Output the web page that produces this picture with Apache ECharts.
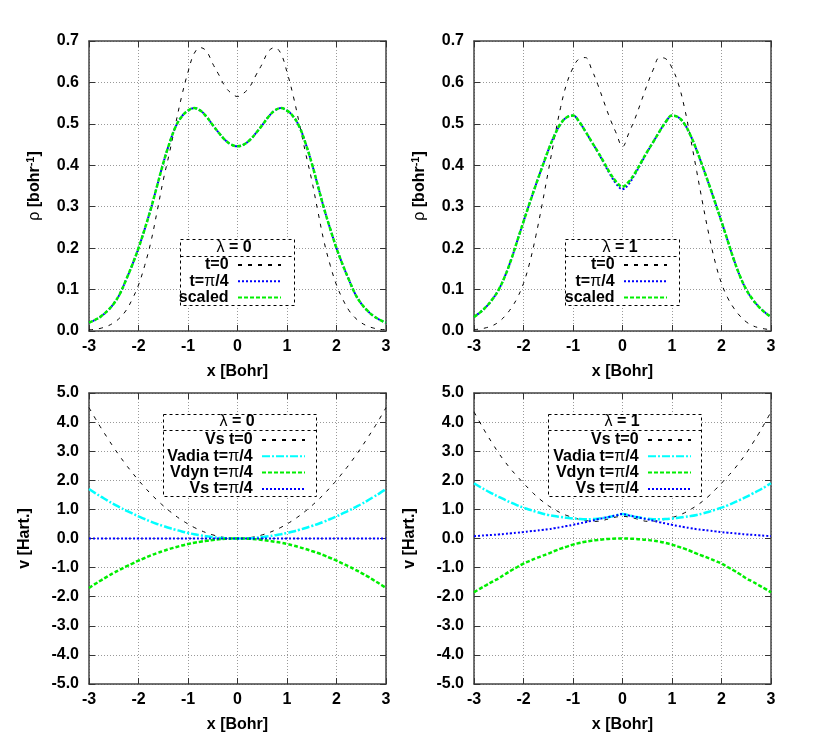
<!DOCTYPE html>
<html>
<head>
<meta charset="utf-8">
<script src="https://cdn.jsdelivr.net/npm/echarts@6.0.0/dist/echarts.min.js"></script>
<style>
  html, body { margin: 0; padding: 0; background: #fff; }
  #main { width: 830px; height: 746px; }
</style>
</head>
<body>
<div id="main"></div>
<script>
// x positions (Bohr)
var xs = [-3, -2.875, -2.75, -2.625, -2.5, -2.375, -2.25, -2.125, -2, -1.875, -1.75, -1.625, -1.5,
          -1.375, -1.25, -1.125, -1, -0.875, -0.75, -0.625, -0.5, -0.375, -0.25, -0.125, 0,
          0.125, 0.25, 0.375, 0.5, 0.625, 0.75, 0.875, 1, 1.125, 1.25, 1.375, 1.5,
          1.625, 1.75, 1.875, 2, 2.125, 2.25, 2.375, 2.5, 2.625, 2.75, 2.875, 3];

// density, lambda = 0
var rhoT0L0 = [0.003, 0.004, 0.007, 0.012, 0.02, 0.032, 0.05, 0.077, 0.111, 0.158, 0.215, 0.288, 0.364,
               0.43, 0.5, 0.568, 0.625, 0.67, 0.684, 0.675, 0.645, 0.618, 0.59, 0.574, 0.566,
               0.574, 0.59, 0.618, 0.645, 0.675, 0.684, 0.67, 0.625, 0.568, 0.5, 0.43, 0.364,
               0.288, 0.215, 0.158, 0.111, 0.077, 0.05, 0.032, 0.02, 0.012, 0.007, 0.004, 0.003];
var rhoPiL0 = [0.02, 0.027, 0.036, 0.049, 0.066, 0.09, 0.124, 0.16, 0.2, 0.246, 0.295, 0.35, 0.405,
               0.453, 0.493, 0.518, 0.532, 0.538, 0.532, 0.517, 0.497, 0.478, 0.461, 0.45, 0.446,
               0.45, 0.461, 0.478, 0.497, 0.517, 0.532, 0.538, 0.532, 0.518, 0.493, 0.453, 0.405,
               0.35, 0.295, 0.246, 0.2, 0.16, 0.124, 0.09, 0.066, 0.049, 0.036, 0.027, 0.02];
var rhoScL0 = [0.02, 0.027, 0.036, 0.049, 0.066, 0.09, 0.124, 0.16, 0.2, 0.246, 0.295, 0.35, 0.405,
               0.453, 0.493, 0.518, 0.532, 0.538, 0.532, 0.517, 0.497, 0.478, 0.461, 0.45, 0.446,
               0.45, 0.461, 0.478, 0.497, 0.517, 0.532, 0.538, 0.532, 0.518, 0.493, 0.453, 0.405,
               0.35, 0.295, 0.246, 0.2, 0.16, 0.124, 0.09, 0.066, 0.049, 0.036, 0.027, 0.02];

// density, lambda = 1
var rhoT0L1 = [0.003, 0.005, 0.008, 0.013, 0.022, 0.036, 0.055, 0.08, 0.115, 0.165, 0.23, 0.305, 0.385,
               0.465, 0.54, 0.598, 0.635, 0.657, 0.66, 0.632, 0.595, 0.553, 0.512, 0.477, 0.445,
               0.477, 0.512, 0.553, 0.595, 0.632, 0.66, 0.657, 0.635, 0.598, 0.54, 0.465, 0.385,
               0.305, 0.23, 0.165, 0.115, 0.08, 0.055, 0.036, 0.022, 0.013, 0.008, 0.005, 0.003];
var rhoPiL1 = [0.034, 0.045, 0.059, 0.077, 0.1, 0.132, 0.172, 0.218, 0.264, 0.309, 0.353, 0.395, 0.436,
               0.472, 0.5, 0.516, 0.52, 0.505, 0.482, 0.457, 0.432, 0.405, 0.378, 0.355, 0.342,
               0.355, 0.378, 0.405, 0.432, 0.457, 0.482, 0.505, 0.52, 0.516, 0.5, 0.472, 0.436,
               0.395, 0.353, 0.309, 0.264, 0.218, 0.172, 0.132, 0.1, 0.077, 0.059, 0.045, 0.034];
var rhoScL1 = [0.034, 0.045, 0.059, 0.077, 0.1, 0.132, 0.172, 0.218, 0.264, 0.309, 0.353, 0.395, 0.436,
               0.472, 0.5, 0.516, 0.52, 0.505, 0.482, 0.457, 0.433, 0.407, 0.381, 0.36, 0.348,
               0.36, 0.381, 0.407, 0.433, 0.457, 0.482, 0.505, 0.52, 0.516, 0.5, 0.472, 0.436,
               0.395, 0.353, 0.309, 0.264, 0.218, 0.172, 0.132, 0.1, 0.077, 0.059, 0.045, 0.034];

// potentials, lambda = 0
var vsT0L0 = [4.5, 4.13, 3.78, 3.45, 3.125, 2.82, 2.53, 2.26, 2.0, 1.76, 1.53, 1.32, 1.125,
              0.945, 0.78, 0.63, 0.5, 0.38, 0.28, 0.195, 0.125, 0.07, 0.03, 0.008, 0,
              0.008, 0.03, 0.07, 0.125, 0.195, 0.28, 0.38, 0.5, 0.63, 0.78, 0.945, 1.125,
              1.32, 1.53, 1.76, 2.0, 2.26, 2.53, 2.82, 3.125, 3.45, 3.78, 4.13, 4.5];
var vadiaL0 = [1.7, 1.56, 1.43, 1.3, 1.18, 1.07, 0.96, 0.86, 0.76, 0.67, 0.58, 0.5, 0.43,
               0.36, 0.3, 0.24, 0.19, 0.145, 0.11, 0.075, 0.05, 0.025, 0.01, 0.003, 0,
               0.003, 0.01, 0.025, 0.05, 0.075, 0.11, 0.145, 0.19, 0.24, 0.3, 0.36, 0.43,
               0.5, 0.58, 0.67, 0.76, 0.86, 0.96, 1.07, 1.18, 1.3, 1.43, 1.56, 1.7];
var vdynL0 = [-1.7, -1.56, -1.43, -1.3, -1.18, -1.07, -0.96, -0.86, -0.76, -0.67, -0.58, -0.5, -0.43,
              -0.36, -0.3, -0.24, -0.19, -0.145, -0.11, -0.075, -0.05, -0.025, -0.01, -0.003, 0,
              -0.003, -0.01, -0.025, -0.05, -0.075, -0.11, -0.145, -0.19, -0.24, -0.3, -0.36, -0.43,
              -0.5, -0.58, -0.67, -0.76, -0.86, -0.96, -1.07, -1.18, -1.3, -1.43, -1.56, -1.7];
var vsPiL0 = [0, 0, 0, 0, 0, 0, 0, 0, 0, 0, 0, 0, 0,
              0, 0, 0, 0, 0, 0, 0, 0, 0, 0, 0, 0,
              0, 0, 0, 0, 0, 0, 0, 0, 0, 0, 0, 0,
              0, 0, 0, 0, 0, 0, 0, 0, 0, 0, 0, 0];

// potentials, lambda = 1
var vsT0L1 = [4.35, 3.97, 3.6, 3.26, 2.93, 2.64, 2.37, 2.13, 1.9, 1.68, 1.47, 1.29, 1.13,
              1.0, 0.88, 0.79, 0.72, 0.66, 0.62, 0.595, 0.59, 0.63, 0.69, 0.74, 0.76,
              0.74, 0.69, 0.63, 0.59, 0.595, 0.62, 0.66, 0.72, 0.79, 0.88, 1.0, 1.13,
              1.29, 1.47, 1.68, 1.9, 2.13, 2.37, 2.64, 2.93, 3.26, 3.6, 3.97, 4.35];
var vadiaL1 = [1.9, 1.77, 1.65, 1.54, 1.43, 1.33, 1.23, 1.14, 1.06, 0.99, 0.92, 0.86, 0.81,
               0.77, 0.74, 0.71, 0.69, 0.67, 0.66, 0.665, 0.68, 0.71, 0.75, 0.8, 0.84,
               0.8, 0.75, 0.71, 0.68, 0.665, 0.66, 0.67, 0.69, 0.71, 0.74, 0.77, 0.81,
               0.86, 0.92, 0.99, 1.06, 1.14, 1.23, 1.33, 1.43, 1.54, 1.65, 1.77, 1.9];
var vdynL1 = [-1.85, -1.72, -1.6, -1.48, -1.37, -1.23, -1.1, -0.98, -0.86, -0.77, -0.68, -0.6, -0.52,
              -0.43, -0.35, -0.28, -0.21, -0.155, -0.11, -0.075, -0.05, -0.028, -0.012, -0.003, 0,
              -0.003, -0.012, -0.028, -0.05, -0.075, -0.11, -0.155, -0.21, -0.28, -0.35, -0.43, -0.52,
              -0.6, -0.68, -0.77, -0.86, -0.98, -1.1, -1.23, -1.37, -1.48, -1.6, -1.72, -1.85];
var vsPiL1 = [0.08, 0.095, 0.11, 0.125, 0.14, 0.16, 0.18, 0.2, 0.22, 0.245, 0.27, 0.295, 0.32,
              0.355, 0.39, 0.43, 0.47, 0.515, 0.56, 0.61, 0.66, 0.705, 0.75, 0.795, 0.84,
              0.795, 0.75, 0.705, 0.66, 0.61, 0.56, 0.515, 0.47, 0.43, 0.39, 0.355, 0.32,
              0.295, 0.27, 0.245, 0.22, 0.2, 0.18, 0.16, 0.14, 0.125, 0.11, 0.095, 0.08];

var rhoNames = ['t=0', 't=π/4', 'scaled'];
var vNames = ['Vs t=0', 'Vadia t=π/4', 'Vdyn t=π/4', 'Vs t=π/4'];

var FONT = 'Liberation Sans, Arial, sans-serif';

// line styles (gnuplot look)
var blackDash = { color: '#000', width: 1, type: [4, 6] };
var blueDot = { color: '#0000ff', width: 2, type: [2, 2] };
var greenDash = { color: '#00ee00', width: 2.5, type: [4, 2] };
var cyanDashDot = { color: '#00ffff', width: 2.5, type: [8, 2, 2, 2] };

var grids = [
    { left: 89, top: 41, width: 297, height: 290 },
    { left: 474, top: 41, width: 297, height: 290 },
    { left: 89, top: 393, width: 297, height: 291 },
    { left: 474, top: 393, width: 297, height: 291 }
];

function mkSeries(name, ys, idx, style, z) {
    return {
        name: name,
        type: 'line',
        xAxisIndex: idx,
        yAxisIndex: idx,
        data: xs.map(function(x, i) { return [x, ys[i]]; }),
        symbol: 'none',
        showSymbol: false,
        smooth: 0.4,
        color: style.color,
        lineStyle: style,
        z: z,
        silent: true
    };
}

var labelStyle = { fontFamily: FONT, fontWeight: 'bold', fontSize: 16, color: '#000' };
var axisLineStyle = { onZero: false, lineStyle: { color: '#444', width: 1.5 } };
var tickStyle = { inside: true, length: 6, lineStyle: { color: '#333' } };
var gridLine = { show: true, lineStyle: { color: '#999', width: 1, type: [1, 2] } };

var xAxes = [], yAxes = [];
var isRho;
for (var g = 0; g < 4; g++) {
    xAxes.push({
        type: 'value', gridIndex: g, min: -3, max: 3, interval: 1,
        name: 'x [Bohr]', nameLocation: 'middle', nameGap: 33,
        nameTextStyle: labelStyle,
        axisLine: axisLineStyle,
        axisTick: tickStyle,
        axisLabel: Object.assign({ margin: 8 }, labelStyle),
        splitLine: gridLine
    });
}
for (var g = 0; g < 4; g++) {
    isRho = g < 2;
    yAxes.push({
        type: 'value', gridIndex: g,
        min: isRho ? 0 : -5, max: isRho ? 0.7 : 5, interval: isRho ? 0.1 : 1,
        name: isRho ? '{g|ρ} [bohr{s|-1}]' : 'v [Hart.]',
        nameLocation: 'middle', nameGap: isRho ? 44 : 56,
        nameTextStyle: Object.assign({}, labelStyle, {
            rich: {
                g: { fontFamily: FONT, fontWeight: 'normal', fontSize: 16, color: '#000' },
                s: { fontFamily: FONT, fontWeight: 'bold', fontSize: 11, color: '#000', padding: [0, 0, 9, 0] }
            }
        }),
        axisLine: axisLineStyle,
        axisTick: tickStyle,
        axisLabel: Object.assign({ margin: 10, formatter: function(v) { return v.toFixed(1); } }, labelStyle),
        splitLine: gridLine
    });
}
// mirrored top / right borders with ticks
for (var g = 0; g < 4; g++) {
    isRho = g < 2;
    xAxes.push({
        type: 'value', gridIndex: g, position: 'top', min: -3, max: 3, interval: 1,
        axisLine: axisLineStyle, axisTick: tickStyle,
        axisLabel: { show: false }, splitLine: { show: false }
    });
    yAxes.push({
        type: 'value', gridIndex: g, position: 'right',
        min: isRho ? 0 : -5, max: isRho ? 0.7 : 5, interval: isRho ? 0.1 : 1,
        axisLine: axisLineStyle, axisTick: tickStyle,
        axisLabel: { show: false }, splitLine: { show: false }
    });
}

var series = [
    mkSeries(rhoNames[0], rhoT0L0, 0, blackDash, 2),
    mkSeries(rhoNames[1], rhoPiL0, 0, blueDot, 3),
    mkSeries(rhoNames[2], rhoScL0, 0, greenDash, 4),
    mkSeries(rhoNames[0], rhoT0L1, 1, blackDash, 2),
    mkSeries(rhoNames[1], rhoPiL1, 1, blueDot, 3),
    mkSeries(rhoNames[2], rhoScL1, 1, greenDash, 4),
    mkSeries(vNames[0], vsT0L0, 2, blackDash, 2),
    mkSeries(vNames[1], vadiaL0, 2, cyanDashDot, 3),
    mkSeries(vNames[2], vdynL0, 2, greenDash, 3),
    mkSeries(vNames[3], vsPiL0, 2, blueDot, 4),
    mkSeries(vNames[0], vsT0L1, 3, blackDash, 2),
    mkSeries(vNames[1], vadiaL1, 3, cyanDashDot, 3),
    mkSeries(vNames[2], vdynL1, 3, greenDash, 3),
    mkSeries(vNames[3], vsPiL1, 3, blueDot, 4)
];

function mkLegend(names, right, top, gap) {
    return {
        data: names, orient: 'vertical', align: 'right',
        right: right, top: top, padding: 0,
        itemWidth: 43, itemHeight: 14, itemGap: gap,
        selectedMode: false, z: 8,
        itemStyle: { opacity: 0 },
        formatter: function(n) { return n.replace('π', '{p|π}') + ' '; },
        textStyle: {
            fontFamily: FONT, fontWeight: 'bold', fontSize: 16, color: '#000', lineHeight: 14,
            rich: { p: { fontFamily: FONT, fontWeight: 'normal', fontSize: 16, color: '#000', lineHeight: 14 } }
        }
    };
}

// key boxes (opaque, dashed border, title row)
function keyBox(x, y, w, h, sepY, title, tx, ty) {
    return [
        { type: 'rect', z: 6, silent: true, shape: { x: x, y: y, width: w, height: h },
          style: { fill: '#fff', stroke: '#000', lineWidth: 1, lineDash: [3, 3] } },
        { type: 'line', z: 7, silent: true, shape: { x1: x, y1: sepY, x2: x + w, y2: sepY },
          style: { stroke: '#000', lineWidth: 1, lineDash: [3, 3] } },
        { type: 'text', z: 9, silent: true,
          style: { text: '{l|λ} = ' + title, x: tx, y: ty, align: 'center', verticalAlign: 'middle',
                   fontFamily: FONT, fontWeight: 'bold', fontSize: 16, fill: '#000',
                   rich: { l: { fontFamily: FONT, fontWeight: 'normal', fontSize: 16, fill: '#000' } } } }
    ];
}

var graphics = [].concat(
    keyBox(180.5, 239.5, 114, 66, 256.5, '0', 234, 248),
    keyBox(565.5, 239.5, 114, 66, 256.5, '1', 620, 248),
    keyBox(163.5, 414.5, 153, 82, 430.5, '0', 237, 422),
    keyBox(548.5, 414.5, 153, 82, 430.5, '1', 622, 422)
);

var chart = echarts.init(document.getElementById('main'), null, { renderer: 'canvas' });
chart.setOption({
    animation: false,
    backgroundColor: '#fff',
    grid: grids,
    xAxis: xAxes,
    yAxis: yAxes,
    legend: [
        mkLegend(rhoNames, 548, 257, 0.2),
        mkLegend(rhoNames, 162, 257, 0.2),
        mkLegend(vNames, 524, 432, 0.3),
        mkLegend(vNames, 138, 432, 0.3)
    ],
    graphic: graphics,
    series: series
});
</script>
</body>
</html>
